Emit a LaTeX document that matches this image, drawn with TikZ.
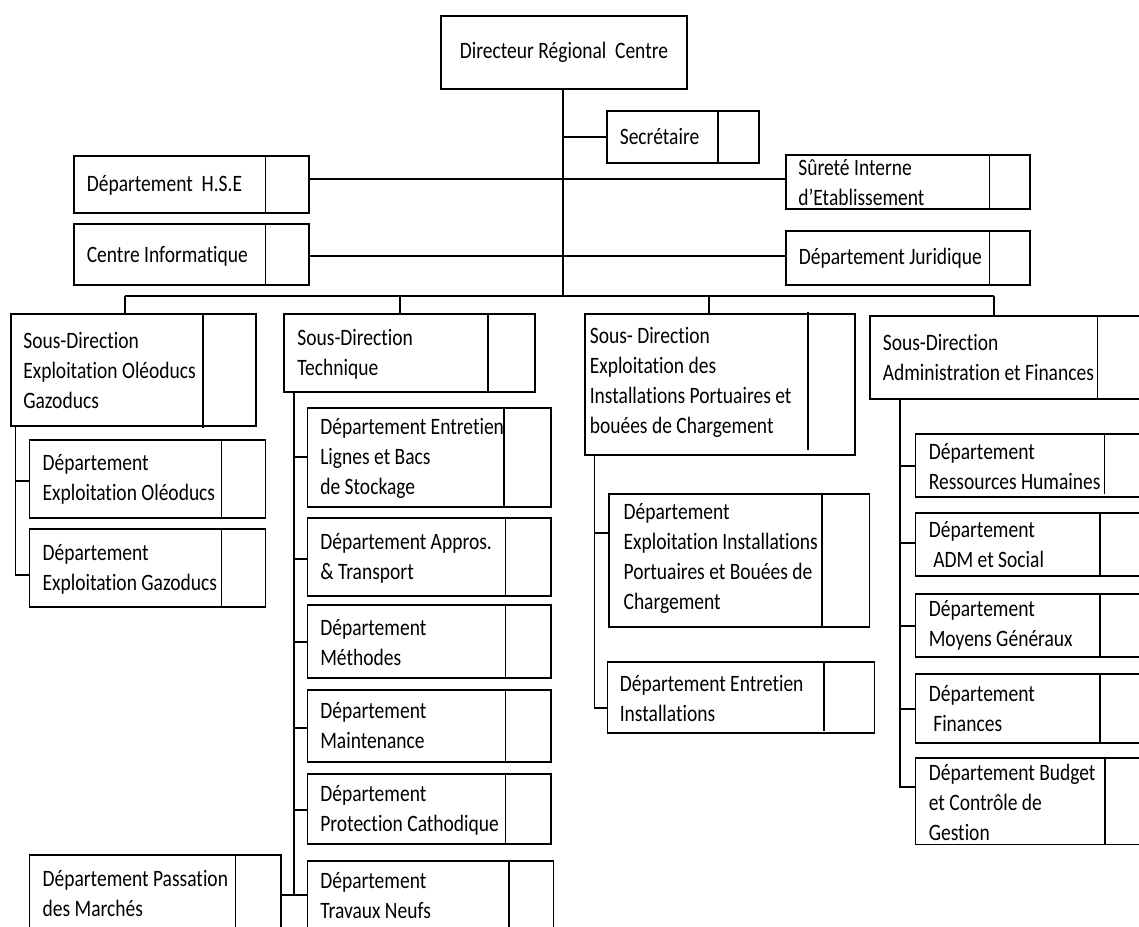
\documentclass[tikz,border=0pt]{standalone}
\usepackage{fontspec}
\setmainfont{Carlito}[FakeStretch=0.83,Ligatures={NoCommon,NoRare,NoContextual}]
\usetikzlibrary{fit}
\begin{document}
\begin{tikzpicture}[x=1pt,y=-1pt,line width=1.6pt,
  box/.style={draw,inner sep=0pt,line width=1.6pt},
  txt/.style={inner sep=0pt,align=left,anchor=west,font={\fontsize{23.5}{30}\selectfont}},
  conn/.style={line width=1.6pt}]
\useasboundingbox (0,0) rectangle (1139,926);
\clip (0,0) rectangle (1139,926);

% ---------- top level ----------
\node[box,fit={(441,16) (687,89)}] (dir) {};
\node[txt,anchor=center] (dirt) at (564,52) {Directeur Régional\ \ Centre};

\node[box,fit={(607,111) (759,163)}] (sec) {};
\draw (718,111) -- (718,163);
\node[txt] (sect) at (619,136) {Secrétaire};

\node[box,fit={(786,155) (1030,209)}] (sur) {};
\draw (989.5,155) -- (989.5,209);
\node[txt] (surt) at (797.5,182.5) {Sûreté Interne\\d’Etablissement};

\node[box,fit={(74,156) (309,213)}] (hse) {};
\draw (265.4,156) -- (265.4,213);
\node[txt] (hset) at (86,185) {Département\ \ H.S.E};

\node[box,fit={(74,224) (309,285)}] (ci) {};
\draw (265.4,224) -- (265.4,285);
\node[txt] (cit) at (86,256) {Centre Informatique};

\node[box,fit={(786,231) (1030,285)}] (jur) {};
\draw (989.5,231) -- (989.5,285);
\node[txt] (jurt) at (798,258) {Département Juridique};

% trunk and side connectors
\coordinate (busM) at (563,296);
\coordinate (tSec) at (563,137);
\draw[conn] (dir.south -| busM) -- (busM);
\draw[conn] (tSec) -- (sec.west |- tSec);
\draw[conn] (hse.east |- 0,179) -- (sur.west |- 0,179);
\draw[conn] (ci.east |- 0,256) -- (jur.west |- 0,256);

% ---------- sous-directions ----------
\node[box,fit={(11,314) (256,426)}] (sd1) {};
\draw (203,314) -- (203,428);
\node[txt] (sd1t) at (22.5,370.5) {Sous-Direction\\Exploitation Oléoducs\\Gazoducs};

\node[box,fit={(284,314) (535,392)}] (sd2) {};
\draw (488,314) -- (488,392);
\node[txt] (sd2t) at (296.6,354) {Sous-Direction\\Technique};

\node[box,fit={(585,314) (855,455)}] (sd3) {};
\draw (808,312) -- (808,450);
\node[txt] (sd3t) at (589,382.5) {Sous- Direction\\Exploitation des\\Installations Portuaires et\\bouées de Chargement};

\node[box,fit={(870,316) (1170,399)}] (sd4) {};
\draw (1097.5,316) -- (1097.5,399);
\node[txt] (sd4t) at (882,357.5) {Sous-Direction\\Administration et Finances};

% bus
\coordinate (busL) at (125,296);
\coordinate (busR) at (994,296);
\draw[conn] (busL) -- (busR);
\draw[conn] (busL) -- (sd1.north -| busL);
\draw[conn] (400,296) -- (sd2.north -| 400,0);
\draw[conn] (709,296) -- (sd3.north -| 709,0);
\draw[conn] (busR) -- (sd4.north -| busR);

% ---------- SD1 departments ----------
\node[box,fit={(29.4,440) (265.4,518)}] (d1a) {};
\draw (221.4,440) -- (221.4,518);
\node[txt] (d1at) at (41.8,479.5) {Département\\Exploitation Oléoducs};

\node[box,fit={(29.4,529) (265.4,607)}] (d1b) {};
\draw (221.4,529) -- (221.4,607);
\node[txt] (d1bt) at (41.8,569) {Département\\Exploitation Gazoducs};

\draw[conn] (sd1.south -| 15.6,0) -- (15.6,575) -- (d1b.west |- 0,575);
\draw[conn] (15.6,481) -- (d1a.west |- 0,481);

% ---------- SD2 departments ----------
\node[box,fit={(307.5,408) (550.7,507)}] (d2a) {};
\draw (504.2,408) -- (504.2,507);
\node[txt] (d2at) at (319.5,458) {Département Entretien\\Lignes et Bacs\\de Stockage};

\node[box,fit={(307.5,518) (550.7,596)}] (d2b) {};
\draw (505.3,518) -- (505.3,596);
\node[txt] (d2bt) at (319.5,558) {Département Appros.\\\& Transport};

\node[box,fit={(307.5,605) (550.7,678)}] (d2c) {};
\draw (505.3,605) -- (505.3,678);
\node[txt] (d2ct) at (319.5,643) {Département\\Méthodes};

\node[box,fit={(307.5,690) (550.7,762)}] (d2d) {};
\draw (505.3,690) -- (505.3,762);
\node[txt] (d2dt) at (319.5,726) {Département\\Maintenance};

\node[box,fit={(307.5,774) (550.7,844)}] (d2e) {};
\draw (505.3,774) -- (505.3,844);
\node[txt] (d2et) at (319.5,810) {Département\\Protection Cathodique};

\node[box,fit={(307.5,861) (553.3,960)}] (d2f) {};
\draw (508.9,861) -- (508.9,960);
\node[txt] (d2ft) at (319.5,896) {Département\\Travaux Neufs};

\node[box,fit={(29.4,855) (281,960)}] (d2g) {};
\draw (235.6,855) -- (235.6,960);
\node[txt] (d2gt) at (41.8,893) {Département Passation\\des Marchés};

\draw[conn] (sd2.south -| 294,0) -- (294,895);
\draw[conn] (d2g.east |- 0,895) -- (d2f.west |- 0,895);
\draw[conn] (294,457) -- (d2a.west |- 0,457);
\draw[conn] (294,559) -- (d2b.west |- 0,559);
\draw[conn] (294,642) -- (d2c.west |- 0,642);
\draw[conn] (294,728) -- (d2d.west |- 0,728);
\draw[conn] (294,810) -- (d2e.west |- 0,810);

% ---------- SD3 departments ----------
\node[box,fit={(609.1,494) (869.5,627)}] (d3a) {};
\draw (822.2,494) -- (822.2,627);
\node[txt] (d3at) at (622.8,558.5) {Département\\Exploitation Installations\\Portuaires et Bouées de\\Chargement};

\node[box,fit={(607.3,662) (874.3,733)}] (d3b) {};
\draw (824,662) -- (824,731);
\node[txt] (d3bt) at (619,698) {Département Entretien\\Installations};

\draw[conn] (sd3.south -| 594.3,0) -- (594.3,708) -- (d3b.west |- 0,708);
\draw[conn] (594.3,533) -- (d3a.west |- 0,533);

% ---------- SD4 departments ----------
\node[box,fit={(915.6,434) (1170,497)}] (d4a) {};
\draw (1104.5,434) -- (1104.5,494);
\node[txt] (d4at) at (928,466.7) {Département\\Ressources Humaines};

\node[box,fit={(915.6,513) (1170,576)}] (d4b) {};
\draw (1100,513) -- (1100,576);
\node[txt] (d4bt) at (928,545) {Département\\\hspace*{4.5pt}ADM et Social};

\node[box,fit={(915.6,594) (1170,656.7)}] (d4c) {};
\draw (1100,594) -- (1100,656.7);
\node[txt] (d4ct) at (928,625.5) {Département\\Moyens Généraux};

\node[box,fit={(915.6,674) (1170,742.7)}] (d4d) {};
\draw (1100,674) -- (1100,742.7);
\node[txt] (d4dt) at (928,709) {Département\\\hspace*{4.5pt}Finances};

\node[box,fit={(915.6,758) (1170,844.3)}] (d4e) {};
\draw (1104.7,758) -- (1104.7,844.3);
\node[txt] (d4et) at (928,802) {Département Budget\\et Contrôle de\\Gestion};

\draw[conn] (sd4.south -| 899.7,0) -- (899.7,787) -- (d4e.west |- 0,787);
\draw[conn] (899.7,466) -- (d4a.west |- 0,466);
\draw[conn] (899.7,543) -- (d4b.west |- 0,543);
\draw[conn] (899.7,626) -- (d4c.west |- 0,626);
\draw[conn] (899.7,709) -- (d4d.west |- 0,709);
\end{tikzpicture}
\end{document}
